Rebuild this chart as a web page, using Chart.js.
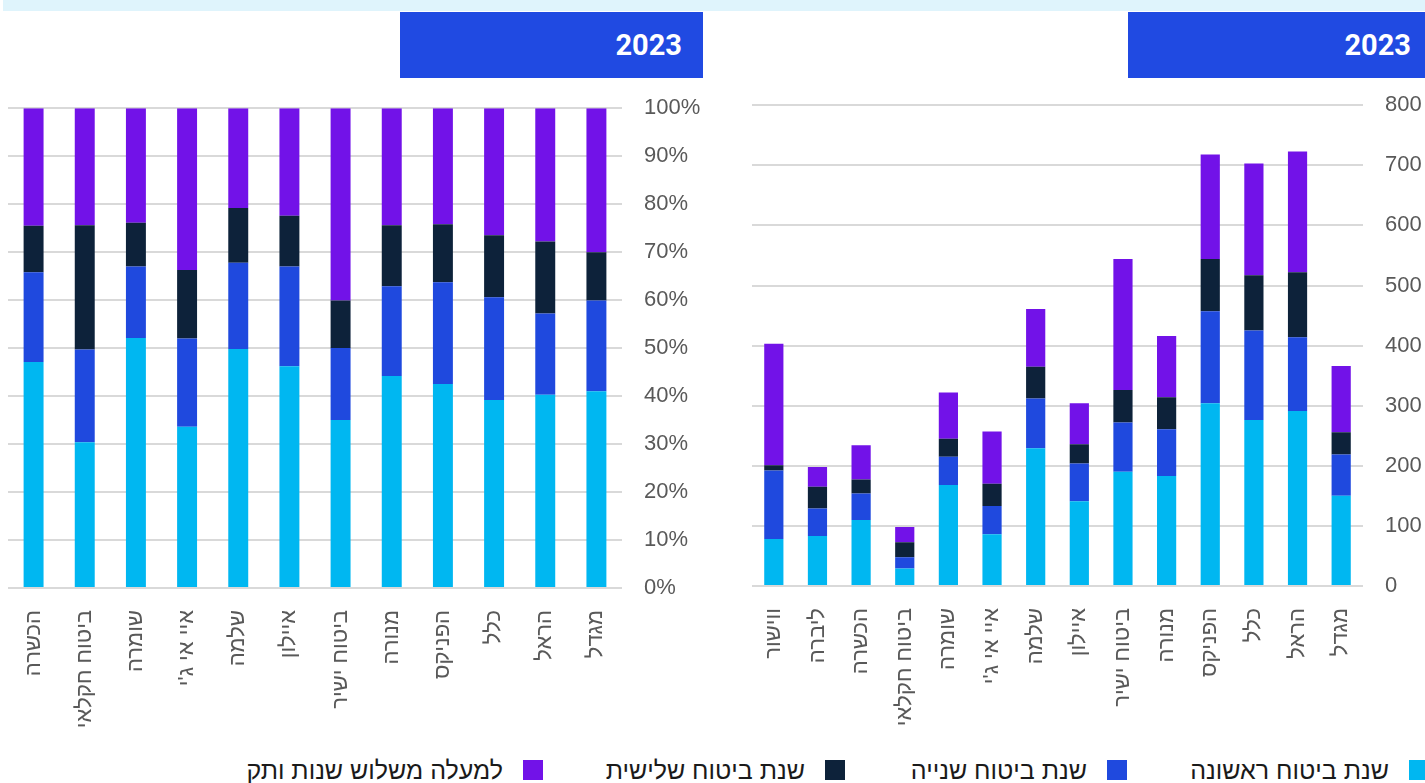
<!DOCTYPE html>
<html lang="he">
<head>
<meta charset="utf-8">
<script src="https://cdn.jsdelivr.net/npm/chart.js@4.4.0/dist/chart.umd.min.js"></script>
<style>
  body { margin: 0; background: #fff; width: 1425px; height: 783px; overflow: hidden; position: relative; font-family: "Liberation Sans", Arial, sans-serif; }
  .strip { position: absolute; left: 3px; top: 0; width: 1422px; height: 11px; background: #dff4fc; }
  .yearbox { position: absolute; top: 12px; height: 66px; background: #204ae2; color: #fff; font-family: Roboto, sans-serif; font-weight: bold; font-size: 29px; line-height: 66px; text-align: right; box-sizing: border-box; }
  .wrap { position: absolute; }
  .leg { position: absolute; top: 757px; height: 26px; display: flex; flex-direction: row-reverse; align-items: center; direction: ltr; }
  .leg span.sq { width: 20px; height: 20px; display: inline-block; margin-left: 20px; }
  .leg span.tx { font-size: 25px; color: #1a1a1a; white-space: nowrap; direction: rtl; }
</style>
</head>
<body>
<div class="strip"></div>
<div class="yearbox" style="left:400px;width:303px;padding-right:21px;">2023</div>
<div class="yearbox" style="left:1128px;width:297px;padding-right:14px;">2023</div>

<div class="wrap" style="left:0;top:73px;width:720px;height:667px;"><canvas id="pctChart" width="720" height="667"></canvas></div>
<div class="wrap" style="left:740px;top:70px;width:685px;height:670px;"><canvas id="absChart" width="685" height="670"></canvas></div>

<div id="legend"></div>

<script>
// names of the series (legend)
var seriesNames = ['שנת ביטוח ראשונה', 'שנת ביטוח שנייה', 'שנת ביטוח שלישית', 'למעלה משלוש שנות ותק'];
var seriesColors = ['#00b7f1', '#1f49de', '#0d223a', '#7212e8'];

// right chart - number of claims (listed right to left)
var absCompanies = ['מגדל', 'הראל', 'כלל', 'הפניקס', 'מנורה', 'ביטוח ישיר', 'איילון', 'שלמה', "איי אי ג'י", 'שומרה', 'ביטוח חקלאי', 'הכשרה', 'ליברה', 'ווישור'];
var absYear1 = [150, 291, 276, 304, 183, 190, 141, 229, 86, 168, 29, 110, 83, 78];
var absYear2 = [69, 123, 149, 153, 78, 82, 63, 83, 47, 47, 19, 44, 46, 114];
var absYear3 = [37, 108, 92, 87, 53, 54, 32, 53, 37, 30, 25, 23, 36, 9];
var absMore = [110, 201, 186, 174, 102, 218, 68, 96, 87, 77, 25, 57, 33, 202];
var absTicks = [0, 100, 200, 300, 400, 500, 600, 700, 800];

// left chart - share in percent (listed right to left)
var pctCompanies = ['מגדל', 'הראל', 'כלל', 'הפניקס', 'מנורה', 'ביטוח ישיר', 'איילון', 'שלמה', "איי אי ג'י", 'שומרה', 'ביטוח חקלאי', 'הכשרה'];
var pctYear1 = [41.0, 40.3, 39.2, 42.5, 44.2, 35.0, 46.2, 49.8, 33.6, 52.1, 30.4, 47.1];
var pctYear2 = [18.9, 16.9, 21.4, 21.2, 18.7, 15.0, 20.8, 18.0, 18.4, 14.9, 19.3, 18.7];
var pctYear3 = [10.1, 15.0, 12.9, 12.1, 12.7, 9.9, 10.6, 11.4, 14.3, 9.1, 25.9, 9.7];
var pctMore = [30.0, 27.8, 26.5, 24.2, 24.4, 40.1, 22.4, 20.8, 33.7, 23.9, 24.4, 24.5];

// legend square positions (left edge, px)
var legendSquares = [1409, 1107, 825, 523];

Chart.defaults.font.family = '"Liberation Sans", Arial, sans-serif';
Chart.defaults.animation = false;

function makeDatasets(lists, barPct) {
  return lists.map(function(d, i) {
    return {
      label: seriesNames[i],
      data: d,
      backgroundColor: seriesColors[i],
      borderWidth: 0,
      barPercentage: barPct,
      categoryPercentage: 1
    };
  });
}

function makeOptions(yMax, yStep, yWidth, xHeight, padLeft, padTop, pct) {
  return {
    responsive: false,
    layout: { padding: { left: padLeft, top: padTop, right: 0, bottom: 0 } },
    plugins: { legend: { display: false }, tooltip: { enabled: false } },
    scales: {
      x: {
        stacked: true,
        reverse: true,
        grid: { display: false },
        border: { display: false },
        ticks: { color: '#595959', font: { size: 22 }, minRotation: 90, maxRotation: 90, autoSkip: false, padding: 14 },
        afterFit: function(axis) { axis.height = xHeight; }
      },
      y: {
        stacked: true,
        position: 'right',
        min: 0,
        max: yMax,
        grid: { color: '#d9d9d9', lineWidth: 2, drawTicks: false },
        border: { display: false },
        ticks: {
          stepSize: yStep,
          color: '#595959',
          font: { size: 22 },
          padding: 22,
          callback: function(v) { return pct ? v + '%' : v; }
        },
        afterFit: function(axis) { axis.width = yWidth; }
      }
    }
  };
}

var absChart = new Chart(document.getElementById('absChart').getContext('2d'), {
  type: 'bar',
  data: { labels: absCompanies, datasets: makeDatasets([absYear1, absYear2, absYear3, absMore], 0.44) },
  options: makeOptions(absTicks[absTicks.length - 1], absTicks[1] - absTicks[0], 62, 154, 12, 15, false)
});

var pctChart = new Chart(document.getElementById('pctChart').getContext('2d'), {
  type: 'bar',
  data: { labels: pctCompanies, datasets: makeDatasets([pctYear1, pctYear2, pctYear3, pctMore], 0.39) },
  options: makeOptions(100, 10, 98, 152, 8, 18, true)
});

// legend across both charts
var leg = document.getElementById('legend');
seriesNames.forEach(function(name, i) {
  var item = document.createElement('div');
  item.className = 'leg';
  item.style.right = (1425 - legendSquares[i] - 20) + 'px';
  item.innerHTML = '<span class="sq" style="background:' + seriesColors[i] + '"></span><span class="tx">' + name + '</span>';
  leg.appendChild(item);
});
</script>
</body>
</html>
